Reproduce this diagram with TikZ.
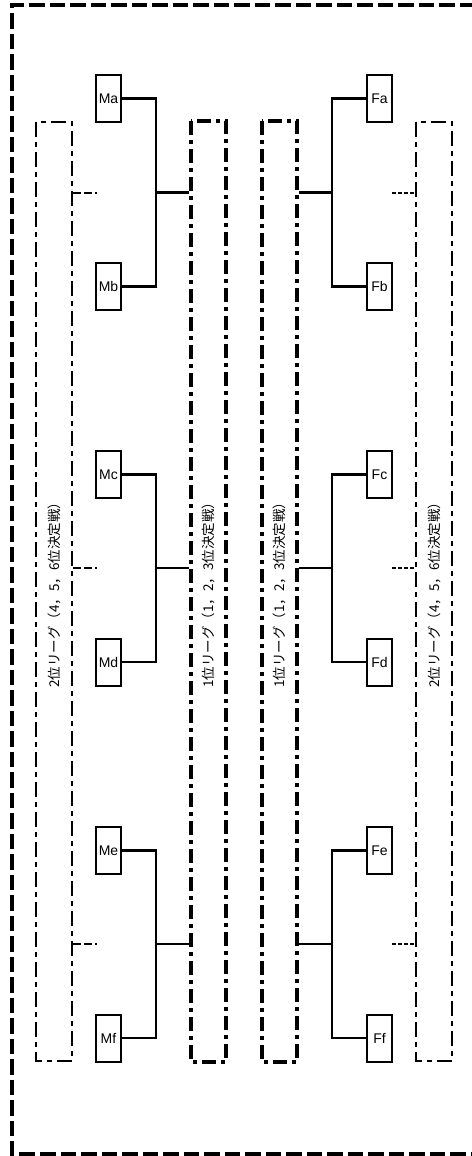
\documentclass[tikz,border=0pt]{standalone}
\usepackage{fontspec}
\setmainfont{Liberation Sans}
\newfontfamily\jpfont{Noto Sans CJK JP}
\begin{document}
\begin{tikzpicture}[x=1pt,y=-1pt,
  frame/.style={line width=3.4pt,dash pattern=on 15.5pt off 5pt},
  thinbox/.style={draw,line width=2.2pt,dash pattern=on 15pt off 5pt on 5pt off 5pt,
    rotate=90,minimum width=939pt,minimum height=36pt,inner sep=0pt,
    font=\jpfont\fontsize{13.5}{16}\selectfont},
  thickbox/.style={draw,line width=3.6pt,dash pattern=on 14pt off 5pt on 4pt off 5pt,
    rotate=90,minimum width=941pt,minimum height=35pt,inner sep=0pt,
    font=\jpfont\fontsize{13.5}{16}\selectfont},
  team/.style={draw,line width=2pt,minimum width=25pt,minimum height=47pt,inner sep=0pt,
    font=\fontsize{14}{16}\selectfont},
  link/.style={line width=2.2pt},
  stubL/.style={line width=2pt,dash pattern=on 8pt off 3pt},
  stubR/.style={line width=2pt,dash pattern=on 4pt off 2pt}]
\useasboundingbox (0,0) rectangle (471,1156);
% outer frame (right side lies outside the picture)
\draw[frame] (475,5) -- (12,5) -- (12,1154) -- (475,1154);

% league boxes
\node[thinbox]  (L2) at (54,591.5)  {2位リーグ（4，5，6位決定戦）};
\node[thickbox] (L1) at (208.5,591.5) {1位リーグ（1，2，3位決定戦）};
\node[thickbox] (R1) at (279.5,591.5) {1位リーグ（1，2，3位決定戦）};
\node[thinbox]  (R2) at (434,591.5) {2位リーグ（4，5，6位決定戦）};

% team boxes
\node[team] (Ma) at (108.5,98.5) {Ma};
\node[team] (Mb) at (108.5,286.5) {Mb};
\node[team] (Mc) at (108.5,474.5) {Mc};
\node[team] (Md) at (108.5,662) {Md};
\node[team] (Me) at (108.5,850.5) {Me};
\node[team] (Mf) at (108.5,1038) {Mf};
\node[team] (Fa) at (379.5,98.5) {Fa};
\node[team] (Fb) at (379.5,286.5) {Fb};
\node[team] (Fc) at (379.5,474.5) {Fc};
\node[team] (Fd) at (379.5,662) {Fd};
\node[team] (Fe) at (379.5,850.5) {Fe};
\node[team] (Ff) at (379.5,1038) {Ff};

% junction points
\coordinate (jM1) at (156,192.5);
\coordinate (jM2) at (156,568);
\coordinate (jM3) at (156,944);
\coordinate (jF1) at (332,192.5);
\coordinate (jF2) at (332,568);
\coordinate (jF3) at (332,944);
% free ends of the stubs
\coordinate (sM1) at (97,192.5);
\coordinate (sM2) at (97,568);
\coordinate (sM3) at (97,944);
\coordinate (sF1) at (392,192.5);
\coordinate (sF2) at (392,568);
\coordinate (sF3) at (392,944);

% brackets
\draw[link] (Ma.east) -| (jM1) |- (Mb.east);
\draw[link] (Mc.east) -| (jM2) |- (Md.east);
\draw[link] (Me.east) -| (jM3) |- (Mf.east);
\draw[link] (jM1) -- (jM1 -| L1.north);
\draw[link] (jM2) -- (jM2 -| L1.north);
\draw[link] (jM3) -- (jM3 -| L1.north);

\draw[link] (Fa.west) -| (jF1) |- (Fb.west);
\draw[link] (Fc.west) -| (jF2) |- (Fd.west);
\draw[link] (Fe.west) -| (jF3) |- (Ff.west);
\draw[link] (jF1) -- (jF1 -| R1.south);
\draw[link] (jF2) -- (jF2 -| R1.south);
\draw[link] (jF3) -- (jF3 -| R1.south);

% stubs
\draw[stubL] (sM1 -| L2.south) -- (sM1);
\draw[stubL] (sM2 -| L2.south) -- (sM2);
\draw[stubL] (sM3 -| L2.south) -- (sM3);
\draw[stubR] (sF1) -- (sF1 -| R2.north);
\draw[stubR] (sF2) -- (sF2 -| R2.north);
\draw[stubR] (sF3) -- (sF3 -| R2.north);
\end{tikzpicture}
\end{document}
